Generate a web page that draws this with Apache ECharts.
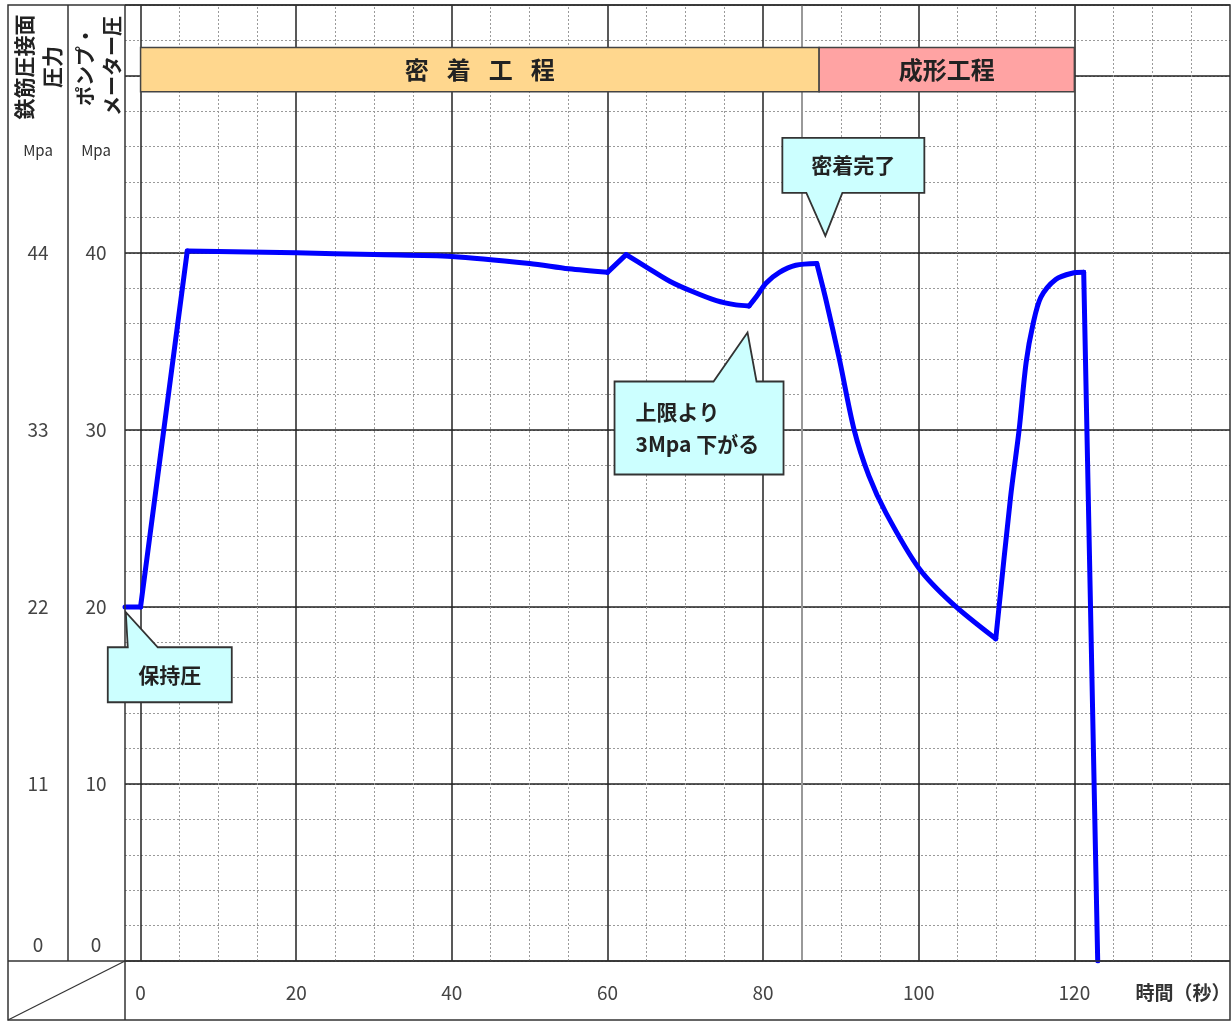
<!DOCTYPE html>
<html><head><meta charset="utf-8">
<script src="https://cdn.jsdelivr.net/npm/echarts@6/dist/echarts.min.js"></script>
<style>html,body{margin:0;padding:0;background:#fff}#c{width:1232px;height:1021px}</style>
</head><body><div id="c"></div>
<script>
// ---- data ----
const timeSec = [-2, 0, 6, 20, 30, 40, 50, 55, 60, 62.4, 65, 68, 71, 74, 76.5, 78.2,
  79.1, 80.4, 82.1, 84.2, 86.9, 88.1, 89.8, 91.7, 93.6, 95.8, 100, 104.3, 109.9,
  111.8, 112.9, 113.8, 114.7, 115.7, 117.6, 119.7, 121.2, 123];
const pumpMpa = [20, 20, 40.1, 40, 39.9, 39.8, 39.4, 39.1, 38.9, 39.9, 39.2, 38.4, 37.8, 37.3, 37.06, 37.0,
  37.5, 38.3, 38.9, 39.3, 39.4, 37.3, 34.0, 30.0, 27.4, 25.3, 22.2, 20.2, 18.2,
  26.2, 30.0, 33.8, 36.0, 37.5, 38.5, 38.85, 38.9, 0];
// indices of the sharp corners of the curve, and whether each piece between them is curved
const cornerIdx = [0, 1, 2, 8, 9, 15, 20, 28, 36, 37];
const pieceCurved = [false, false, true, false, true, true, true, true, false];

const xTickValues = [0, 20, 40, 60, 80, 100, 120];
const xMinorGrid = [5, 10, 15, 25, 30, 35, 45, 50, 55, 65, 70, 75, 85, 90, 95, 105, 110, 115, 125, 130, 135];
const xMajorGrid = [0, 20, 40, 60, 80, 100, 120];
const xMarkerLine = [85];
const yTickValues = [0, 10, 20, 30, 40];
const pumpTickLabels = ['0', '10', '20', '30', '40'];
const jointTickLabels = ['0', '11', '22', '33', '44'];

const phaseNames = ['密{s|　}着{s|　}工{s|　}程', '成形工程'];
const phaseStart = [0, 87.2];
const phaseEnd = [87.2, 120];
const phaseColors = ['#FFD78E', '#FFA3A3'];
const phaseLow = 49.1, phaseHigh = 51.6;

const FONT = '"Noto Sans CJK JP", "Noto Sans", sans-serif';
const chart = echarts.init(document.getElementById('c'), null, {renderer: 'canvas'});

function tickFmt(labels) {
  return function (v) {
    const i = yTickValues.indexOf(v);
    if (i < 0) return '';
    return v === 0 ? labels[i] + '\n' : labels[i];
  };
}
const hiddenAxis = {axisLine: {show: false}, axisTick: {show: false}};

const curveSeries = [];
for (let k = 0; k < cornerIdx.length - 1; k++) {
  const pts = [];
  for (let i = cornerIdx[k]; i <= cornerIdx[k + 1]; i++) pts.push([timeSec[i], pumpMpa[i]]);
  curveSeries.push({
    type: 'line', z: 5, data: pts, showSymbol: false, symbol: 'none',
    smooth: pieceCurved[k] ? 0.3 : false, silent: true,
    lineStyle: {color: '#0000FF', width: 5, cap: 'round', join: 'round'}
  });
}

const option = {
  animation: false,
  backgroundColor: '#fff',
  grid: {left: 125, right: 2, top: 5, bottom: 60, show: false},
  xAxis: {
    type: 'value', min: -2, max: 140, ...hiddenAxis,
    splitLine: {show: false},
    axisLabel: {customValues: xTickValues, margin: 22, fontSize: 19, color: '#444', fontFamily: FONT}
  },
  yAxis: [
    {type: 'value', min: 0, max: 54, interval: 2, position: 'left', ...hiddenAxis,
      axisLabel: {show: false},
      splitLine: {lineStyle: {color: '#9a9a9a', type: [2, 2], width: 1}}},
    {type: 'value', min: 0, max: 54, interval: 10, position: 'left', ...hiddenAxis,
      splitLine: {lineStyle: {color: '#222', width: 1.5}},
      axisLabel: {formatter: tickFmt(pumpTickLabels), align: 'center', margin: 29, fontSize: 19,
        lineHeight: 32, color: '#444', fontFamily: FONT}},
    {type: 'value', min: 0, max: 54, interval: 10, position: 'left', ...hiddenAxis,
      splitLine: {show: false},
      axisLabel: {formatter: tickFmt(jointTickLabels), align: 'center', margin: 87, fontSize: 19,
        lineHeight: 32, color: '#444', fontFamily: FONT}}
  ],
  series: [
    {
      type: 'line', data: [], silent: true,
      markLine: {
        z: 1, silent: true, symbol: ['none', 'none'], label: {show: false}, animation: false,
        data: [
          ...xMinorGrid.map(v => ({xAxis: v, lineStyle: {color: '#9a9a9a', type: [2, 2], width: 1}})),
          ...xMarkerLine.map(v => ({xAxis: v, lineStyle: {color: '#999', type: 'solid', width: 2}})),
          ...xMajorGrid.map(v => ({xAxis: v, lineStyle: {color: '#222', type: 'solid', width: 1.5}}))
        ]
      },
      markArea: {
        z: 3, silent: true,
        itemStyle: {borderColor: '#444', borderWidth: 1.5},
        label: {position: 'inside', fontSize: 24, color: '#222', fontFamily: FONT, fontWeight: 'bold',
          rich: {s: {fontSize: 18, fontFamily: FONT}}},
        data: phaseNames.map((n, i) => [
          {name: n, xAxis: phaseStart[i], yAxis: phaseLow, itemStyle: {color: phaseColors[i], borderColor: '#444', borderWidth: 1.5}},
          {xAxis: phaseEnd[i], yAxis: phaseHigh}
        ])
      }
    },
    ...curveSeries
  ]
};
chart.setOption(option);

// ---- static frame & headers ----
const frame = '#333';
const graphics = [
  {type: 'rect', z: 20, shape: {x: 8, y: 5, width: 1222, height: 1015}, style: {fill: 'none', stroke: frame, lineWidth: 1.5}},
  {type: 'line', z: 20, shape: {x1: 68, y1: 5, x2: 68, y2: 961}, style: {stroke: frame, lineWidth: 1.5}},
  {type: 'line', z: 20, shape: {x1: 125, y1: 5, x2: 125, y2: 1020}, style: {stroke: frame, lineWidth: 1.5}},
  {type: 'line', z: 20, shape: {x1: 8, y1: 961, x2: 1230, y2: 961}, style: {stroke: frame, lineWidth: 1.5}},
  {type: 'line', z: 20, shape: {x1: 8, y1: 1020, x2: 125, y2: 961}, style: {stroke: frame, lineWidth: 1.2}},
  {type: 'text', z: 20, x: 38, y: 67, rotation: Math.PI / 2,
    style: {text: '鉄筋圧接面\n圧力', font: 'bold 21px ' + FONT, fill: '#222', align: 'center', verticalAlign: 'middle', lineHeight: 28}},
  {type: 'text', z: 20, x: 99, y: 66, rotation: Math.PI / 2,
    style: {text: 'ポンプ・\nメーター圧', font: 'bold 20px ' + FONT, fill: '#222', align: 'center', verticalAlign: 'middle', lineHeight: 27}},
  {type: 'text', z: 20, x: 38, y: 150, style: {text: 'Mpa', font: '15px ' + FONT, fill: '#333', align: 'center', verticalAlign: 'middle'}},
  {type: 'text', z: 20, x: 96, y: 150, style: {text: 'Mpa', font: '15px ' + FONT, fill: '#333', align: 'center', verticalAlign: 'middle'}},
  {type: 'text', z: 20, x: 1183, y: 993, style: {text: '時間（秒）', font: 'bold 19px ' + FONT, fill: '#333', align: 'center', verticalAlign: 'middle'}}
];

// ---- callouts anchored at data coordinates, box offsets in pixels ----
const callouts = [
  {text: '保持圧', tip: [-1.9, 19.7], box: [-18, 106, 35, 90], base: [2, 32], side: 'top', align: 'center'},
  {text: '密着完了', tip: [88.0, 40.96], box: [-43, 99, -98, -43], base: [-19, 17], side: 'bottom', align: 'center'},
  {text: '上限より\n3Mpa 下がる', tip: [78.0, 35.5], box: [-133, 36, 49, 142], base: [-34, 9], side: 'top', align: 'left'}
];
callouts.forEach(c => {
  const p = chart.convertToPixel({gridIndex: 0}, c.tip);
  const L = p[0] + c.box[0], R = p[0] + c.box[1], T = p[1] + c.box[2], B = p[1] + c.box[3];
  let pts;
  if (c.side === 'top') {
    pts = [[L, T], [p[0] + c.base[0], T], [p[0], p[1]], [p[0] + c.base[1], T], [R, T], [R, B], [L, B]];
  } else {
    pts = [[L, T], [R, T], [R, B], [p[0] + c.base[1], B], [p[0], p[1]], [p[0] + c.base[0], B], [L, B]];
  }
  graphics.push({type: 'polygon', z: 30, shape: {points: pts},
    style: {fill: '#CCFFFF', stroke: '#333', lineWidth: 1.8}});
  graphics.push({type: 'text', z: 31,
    x: c.align === 'center' ? (L + R) / 2 : L + 21, y: (T + B) / 2,
    style: {text: c.text, font: 'bold 21px ' + FONT, fill: '#222', align: c.align, verticalAlign: 'middle', lineHeight: 32}});
});
chart.setOption({graphic: graphics});
</script>
</body></html>
